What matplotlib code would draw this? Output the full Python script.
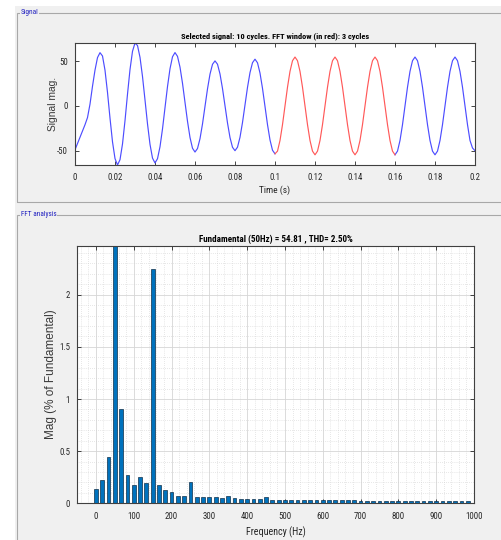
import numpy as np
import matplotlib
matplotlib.use("Agg")
import matplotlib.pyplot as plt
from matplotlib.patches import Rectangle
from matplotlib.ticker import MultipleLocator

plt.rcParams["axes.unicode_minus"] = False

# ---------------- data ----------------
t_start, t_end, n_samples = 0.0, 0.2, 161
signal_values = [
    -49.0, -42.0, -35.0, -28.0, -21.0, -13.0, 2.0, 22.0, 40.0, 54.0, 59.5,
    55.8, 39.9, 15.1, -13.6, -40.1, -58.8, -66.0,
    -60.1, -42.5, -16.5, 13.1, 40.6, 61.0, 70.3,
    67.5, 54.3, 32.9, 6.7, -20.0, -42.9, -58.3, -63.7,
    -59.0, -45.6, -25.7, -2.0, 21.6, 41.5, 54.9, 59.6,
    55.4, 43.3, 25.3, 4.0, -17.2, -35.2, -47.3, -51.5,
    -47.6, -36.6, -20.1, -0.5, 19.0, 35.5, 46.5, 50.3,
    46.6, 35.7, 19.4, 0.2, -19.0, -35.3, -46.2, -50.0,
    -46.1, -35.0, -18.5, 1.1, 20.7, 37.2, 48.3, 52.2,
    48.2, 36.7, 19.6, -0.6, -20.9, -38.0, -49.5, -53.5,
    -50.5, -38.6, -20.9, 0.0, 20.9, 38.6, 50.5, 54.6, 50.5, 38.6, 20.9, 0.0, -20.9, -38.6, -50.5, -54.6,
    -50.5, -38.6, -20.9, 0.0, 20.9, 38.6, 50.5, 54.6, 50.5, 38.6, 20.9, 0.0, -20.9, -38.6, -50.5, -54.6,
    -50.5, -38.6, -20.9, 0.0, 20.9, 38.6, 50.5, 54.6, 50.5, 38.6, 20.9, 0.0, -20.9, -38.6, -50.5, -54.6,
    -50.5, -38.6, -20.9, 0.0, 20.9, 38.6, 50.5, 54.6, 50.5, 38.6, 20.9, 0.0, -20.9, -38.6, -50.5, -54.6,
    -50.5, -38.6, -20.9, 0.0, 20.9, 38.6, 50.5, 54.6, 50.5, 38.6, 20.9, 0.0, -20.9, -38.6, -47.0, -50.0,
]
fft_window = (0.10, 0.16)

freq_step = 50.0 / 3.0
harmonic_mag = [
    0.134, 0.22, 0.44, 100.0, 0.90, 0.27, 0.18, 0.256, 0.19, 2.25,
    0.18, 0.13, 0.112, 0.07, 0.07, 0.20, 0.064, 0.064, 0.060, 0.058,
    0.054, 0.067, 0.048, 0.045, 0.045, 0.045, 0.042, 0.058, 0.035, 0.035,
    0.035, 0.035, 0.032, 0.035, 0.029, 0.029, 0.029, 0.028, 0.028, 0.028,
    0.027, 0.027, 0.026, 0.026, 0.026, 0.026, 0.025, 0.025, 0.025, 0.024,
    0.024, 0.024, 0.023, 0.023, 0.023, 0.022, 0.022, 0.022, 0.021, 0.021,
]

sig_title = "Selected signal: 10 cycles. FFT window (in red): 3 cycles"
fft_title = "Fundamental (50Hz) = 54.81 , THD= 2.50%"
time_ticks = [0, 0.02, 0.04, 0.06, 0.08, 0.1, 0.12, 0.14, 0.16, 0.18, 0.2]
time_ticklabels = ["0", "0.02", "0.04", "0.06", "0.08", "0.1", "0.12", "0.14", "0.16", "0.18", "0.2"]
sig_yticks = [-50, 0, 50]
freq_ticks = list(range(0, 1001, 100))
mag_ticks = [0, 0.5, 1, 1.5, 2]
mag_ticklabels = ["0", "0.5", "1", "1.5", "2"]

# ---------------- style ----------------
narrow = ["Roboto Condensed", "DejaVu Sans"]
regular = ["Liberation Sans", "DejaVu Sans"]
txt = "#262626"
panel_bg = "#f0f0f0"

W, H = 502, 540
fig = plt.figure(figsize=(W / 100, H / 100), dpi=100, facecolor="white")

def fx(px):
    return px / W

def fy(py):
    return 1 - py / H

# panel background + frames
fig.patches.append(Rectangle((fx(15), 0), 1, fy(6), transform=fig.transFigure,
                             facecolor=panel_bg, edgecolor="none", zorder=-2))
for (x0, y0, y1) in [(17, 13, 202), (17, 215, 560)]:
    fig.patches.append(Rectangle((fx(x0), fy(y1)), 1, fy(y0) - fy(y1), transform=fig.transFigure,
                                 facecolor="none", edgecolor="#a8a8a8", lw=0.8, zorder=-1))
for (ly, label) in [(13, "Signal"), (215, "FFT analysis")]:
    fig.text(fx(21), fy(ly), label, color="#2020c0", fontsize=5.2, family=narrow,
             va="center", ha="left", zorder=-0.5,
             bbox=dict(facecolor=panel_bg, edgecolor="none", pad=0.5))

# ---------------- signal axes ----------------
t = np.linspace(t_start, t_end, n_samples)
sig = np.array(signal_values)
ax1 = fig.add_axes([fx(75), fy(165), fx(475) - fx(75), fy(43) - fy(165)])
eps = 1e-9
pre = t <= fft_window[0] + eps
win = (t >= fft_window[0] - eps) & (t <= fft_window[1] + eps)
post = t >= fft_window[1] - eps
ax1.plot(t[pre], sig[pre], color=(0.3, 0.3, 1.0), lw=0.85)
ax1.plot(t[post], sig[post], color=(0.3, 0.3, 1.0), lw=0.85)
ax1.plot(t[win], sig[win], color=(1.0, 0.35, 0.35), lw=0.85)
ax1.set_xlim(t_start, t_end)
ax1.set_ylim(sig.min(), sig.max())
ax1.set_xticks(time_ticks)
ax1.set_xticklabels(time_ticklabels)
ax1.set_yticks(sig_yticks)
ax1.set_title(sig_title, fontsize=6.0, fontweight="bold", family=narrow, color="black", pad=3)
ax1.set_xlabel("Time (s)", fontsize=6.8, family=narrow, color=txt)
ax1.set_ylabel("Signal mag.", fontsize=7.4, family=regular, color="#3a3a3a")
ax1.xaxis.set_label_coords(0.5, -0.17)
ax1.yaxis.set_label_coords(-0.0425, 0.5)

# ---------------- FFT axes ----------------
freqs = np.arange(len(harmonic_mag)) * freq_step
ax2 = fig.add_axes([fx(77), fy(503.3), fx(474) - fx(77), fy(245.7) - fy(503.3)])
ax2.set_axisbelow(True)
ax2.bar(freqs, harmonic_mag, width=10, color="#0072BD", edgecolor="#10304a", linewidth=0.5)
ax2.set_xlim(-50, 1000)
ax2.set_ylim(0, 2.47)
ax2.set_xticks(freq_ticks)
ax2.set_yticks(mag_ticks)
ax2.set_yticklabels(mag_ticklabels)
ax2.xaxis.set_minor_locator(MultipleLocator(20))
ax2.yaxis.set_minor_locator(MultipleLocator(0.1))
ax2.grid(True, which="major", color="#d6d6d6", lw=0.6, ls="-")
ax2.grid(True, which="minor", color="#d0d0d0", lw=0.5, ls=(0, (1, 2)))
ax2.set_title(fft_title, fontsize=6.5, fontweight="bold", family=narrow, color="black", pad=3)
ax2.set_xlabel("Frequency (Hz)", fontsize=7.2, family=narrow, color=txt)
ax2.set_ylabel("Mag (% of Fundamental)", fontsize=8.5, family=regular, color="#3a3a3a")
ax2.xaxis.set_label_coords(0.5, -0.09)
ax2.yaxis.set_label_coords(-0.05, 0.5)

for ax in (ax1, ax2):
    ax.set_facecolor("white")
    ax.tick_params(which="both", direction="in", top=True, right=True, colors=txt,
                   labelsize=6.3, length=3, width=0.6)
    ax.tick_params(axis="x", pad=6)
    ax.tick_params(axis="y", pad=5)
    ax.tick_params(which="minor", length=0)
    for lab in ax.get_xticklabels() + ax.get_yticklabels():
        lab.set_family(narrow)
        lab.set_color(txt)
    for s in ax.spines.values():
        s.set_color("#404040")
        s.set_linewidth(0.8)

fig.savefig("out.png", dpi=100, facecolor=fig.get_facecolor())
